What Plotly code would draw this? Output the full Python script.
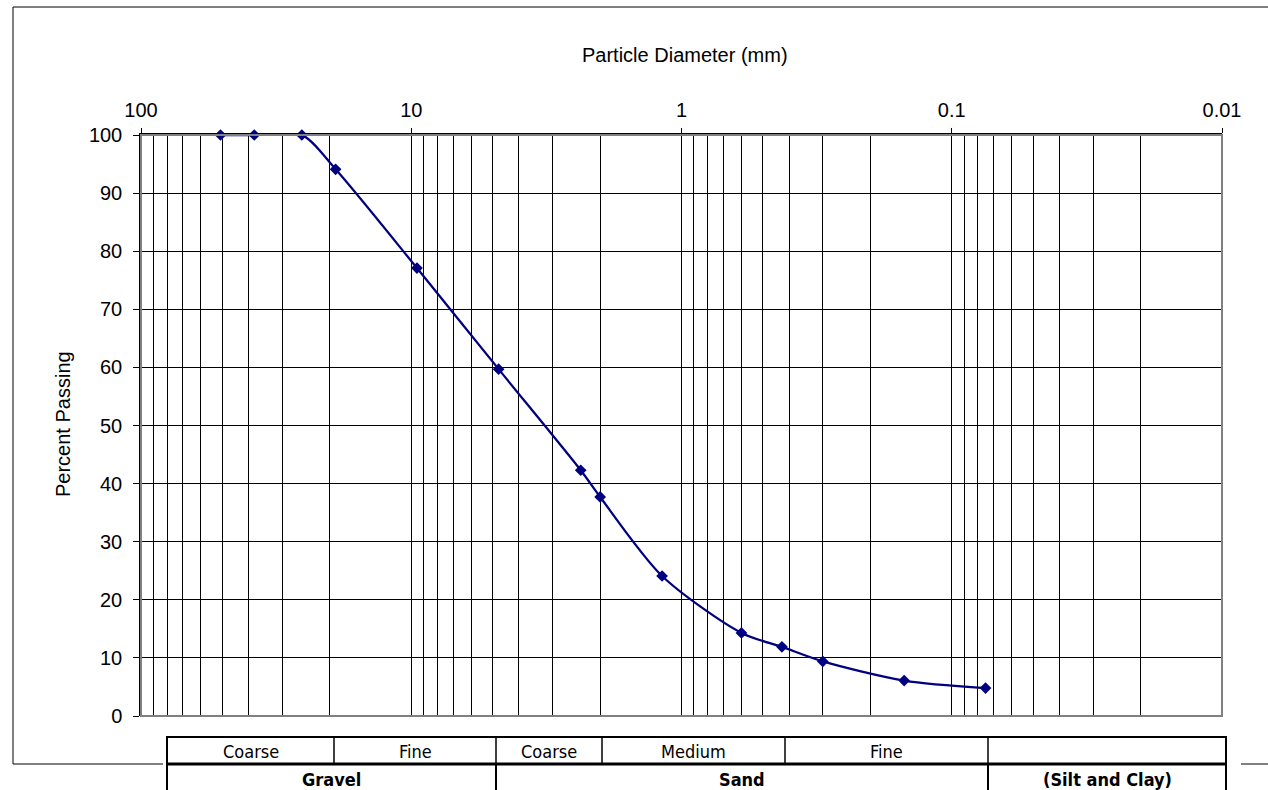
import plotly.graph_objects as go

# Sieve analysis: particle size (mm) and percent passing
sieve_size_mm = [50.8, 38.1, 25.4, 19.05, 9.525, 4.75, 2.36, 2.0, 1.18, 0.6, 0.425, 0.3, 0.15, 0.075]
percent_passing = [100, 100, 100, 94.1, 77.1, 59.7, 42.3, 37.7, 24.1, 14.3, 11.9, 9.4, 6.1, 4.8]

# Axis tick labels
x_tick_vals = [100, 10, 1, 0.1, 0.01]
x_tick_text = ["100", "10", "1", "0.1", "0.01"]
x_minor_vals = [m * 10 ** e for e in (-2, -1, 0, 1) for m in range(2, 10)]

# Soil classification table below the chart
class_row1 = ["Coarse", "Fine", "Coarse", "Medium", "Fine", ""]
class_row2 = ["Gravel", "Sand", "(Silt and Clay)"]

# Layout geometry (pixels in the 1268x790 page)
W, H = 1268, 790
PL, PR, PT, PB = 141, 1222, 135, 716
row1_edges_px = [167, 334, 496, 602, 785, 988, 1226]
row2_edges_px = [167, 496, 988, 1226]
TABLE_TOP, TABLE_MID, TABLE_BOT = 737, 764, 800


def fx(px):
    return (px - PL) / (PR - PL)


def fy(py):
    return (PB - py) / (PB - PT)


FONT = "Liberation Sans, Arial, sans-serif"
NARROW = "DejaVu Sans Condensed, Liberation Sans, Arial, sans-serif"
NAVY = "#000080"
FS = 20
TS = 18

fig = go.Figure()
fig.add_trace(go.Scatter(
    x=sieve_size_mm, y=percent_passing,
    mode="lines+markers",
    line=dict(color=NAVY, width=2.25, shape="spline", smoothing=0.8),
    marker=dict(symbol="diamond", size=9, color=NAVY),
    cliponaxis=False,
    showlegend=False,
))

shapes = []
# plot area border (grey)
shapes.append(dict(type="rect", xref="paper", yref="paper", x0=0, x1=1, y0=0, y1=1,
                   line=dict(color="#808080", width=2), layer="above"))
# outer chart frame
frame = dict(color="black", width=1)
shapes.append(dict(type="line", xref="paper", yref="paper", x0=fx(13), x1=fx(13), y0=fy(7), y1=fy(764), line=frame))
shapes.append(dict(type="line", xref="paper", yref="paper", x0=fx(13), x1=fx(1275), y0=fy(7), y1=fy(7), line=frame))
shapes.append(dict(type="line", xref="paper", yref="paper", x0=fx(13), x1=fx(163), y0=fy(764), y1=fy(764), line=frame))
shapes.append(dict(type="line", xref="paper", yref="paper", x0=fx(1241), x1=fx(1275), y0=fy(764), y1=fy(764), line=frame))

# classification table
tline = dict(color="black", width=2)
shapes.append(dict(type="line", xref="paper", yref="paper", x0=fx(166), x1=fx(1227), y0=fy(TABLE_TOP), y1=fy(TABLE_TOP), line=tline))
shapes.append(dict(type="line", xref="paper", yref="paper", x0=fx(166), x1=fx(1227), y0=fy(TABLE_MID), y1=fy(TABLE_MID), line=dict(color="black", width=3)))
for px in row1_edges_px:
    w = 2 if px in (row1_edges_px[0], row1_edges_px[-1]) else 1.5
    shapes.append(dict(type="line", xref="paper", yref="paper", x0=fx(px), x1=fx(px), y0=fy(TABLE_TOP), y1=fy(TABLE_MID), line=dict(color="black", width=w)))
for px in row2_edges_px:
    shapes.append(dict(type="line", xref="paper", yref="paper", x0=fx(px), x1=fx(px), y0=fy(TABLE_MID), y1=fy(TABLE_BOT), line=dict(color="black", width=2)))

annotations = []
for i, label in enumerate(class_row1):
    if label:
        cx = (row1_edges_px[i] + row1_edges_px[i + 1]) / 2
        annotations.append(dict(text=label, xref="paper", yref="paper", x=fx(cx), y=fy(751),
                                xanchor="center", yanchor="middle", showarrow=False,
                                font=dict(family=NARROW, size=TS, color="black")))
for i, label in enumerate(class_row2):
    cx = (row2_edges_px[i] + row2_edges_px[i + 1]) / 2
    annotations.append(dict(text="<b>" + label + "</b>", xref="paper", yref="paper", x=fx(cx), y=fy(779),
                            xanchor="center", yanchor="middle", showarrow=False,
                            font=dict(family=NARROW, size=TS, color="black")))

# axis titles
annotations.append(dict(text="Particle Diameter (mm)", xref="paper", yref="paper", x=fx(685), y=fy(55),
                        xanchor="center", yanchor="middle", showarrow=False,
                        font=dict(family=FONT, size=FS, color="black")))
annotations.append(dict(text="Percent Passing", xref="paper", yref="paper", x=fx(63), y=fy(424),
                        xanchor="center", yanchor="middle", showarrow=False, textangle=-90,
                        font=dict(family=FONT, size=FS, color="black")))

fig.update_layout(
    width=W, height=H,
    margin=dict(l=PL, r=W - PR, t=PT, b=H - PB, autoexpand=False),
    paper_bgcolor="white", plot_bgcolor="white",
    font=dict(family=FONT, size=FS, color="black"),
    shapes=shapes, annotations=annotations,
    xaxis=dict(
        type="log", range=[2, -2], side="top",
        tickvals=x_tick_vals, ticktext=x_tick_text,
        ticks="outside", ticklen=5, tickcolor="black", tickwidth=1,
        showline=True, linecolor="black", linewidth=1.5,
        showgrid=True, gridcolor="black", gridwidth=1,
        minor=dict(tickvals=x_minor_vals, showgrid=True, gridcolor="black", gridwidth=1, ticks=""),
        zeroline=False, ticklabelstandoff=3,
        tickfont=dict(family=FONT, size=FS, color="black"),
    ),
    yaxis=dict(
        range=[0, 100], dtick=10, tick0=0,
        ticks="outside", ticklen=6, tickcolor="black", tickwidth=1,
        showline=True, linecolor="black", linewidth=1.5,
        showgrid=True, gridcolor="black", gridwidth=1,
        zeroline=False, ticklabelstandoff=7,
        tickfont=dict(family=FONT, size=FS, color="black"),
    ),
)

fig.write_html("out.html")
